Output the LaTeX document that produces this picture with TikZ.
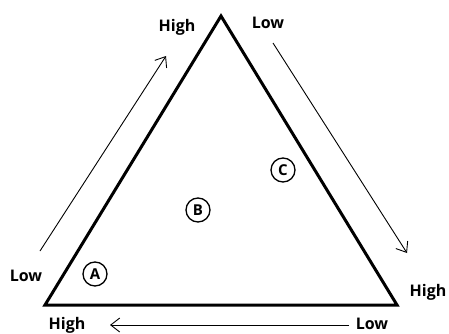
\documentclass[tikz,border=0pt]{standalone}
\usepackage{fontspec}
\setmainfont{Open Sans}
\usetikzlibrary{arrows.meta}
\tikzset{
  lbl/.style={font=\bfseries\fontsize{16}{18}\selectfont, inner sep=0pt},
  circ/.style={draw, circle, line width=1.3pt, minimum size=24pt, inner sep=0pt, font=\bfseries\fontsize{15}{17}\selectfont},
  tri/.style={line width=3pt, line join=miter},
  arr/.style={line width=0.9pt, -{Straight Barb[length=9pt,width=14pt,line width=0.9pt]}}
}
\begin{document}
\begin{tikzpicture}[x=1pt,y=-1pt]
\useasboundingbox (0,0) rectangle (449,334);
\coordinate (T) at (221,16);
\coordinate (L) at (45,305);
\coordinate (R) at (397,305);
\draw[tri] (T) -- (R) -- (L) -- cycle;
\node[lbl] (hT) at (177,27) {High};
\node[lbl] (lT) at (268,23) {Low};
\node[lbl] (lL) at (26,276) {Low};
\node[lbl] (hL) at (67,325) {High};
\node[lbl] (lR) at (372,324) {Low};
\node[lbl] (hR) at (428,292) {High};
\node[circ] (A) at (95,274) {A};
\node[circ] (B) at (198,210) {B};
\node[circ] (C) at (283,170) {C};
\coordinate (a1) at (40,251);
\coordinate (a2) at (166,56);
\coordinate (b1) at (273,43);
\coordinate (b2) at (407,253);
\coordinate (c1) at (349,325);
\coordinate (c2) at (110,325);
\draw[arr] (a1) -- (a2);
\draw[arr] (b1) -- (b2);
\draw[arr] (c1) -- (c2);
\end{tikzpicture}
\end{document}
